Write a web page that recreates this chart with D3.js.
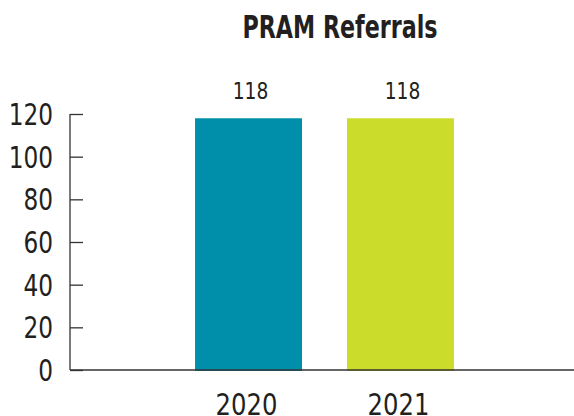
<!DOCTYPE html>
<html>
<head>
<meta charset="utf-8">
<script src="https://cdn.jsdelivr.net/npm/d3@7"></script>
<style>
  html, body { margin: 0; padding: 0; background: #fff; }
  svg { display: block; }
  text { font-family: "DejaVu Sans Condensed", "DejaVu Sans", sans-serif; font-stretch: condensed; fill: #231f20; }
</style>
</head>
<body>
<svg id="chart" width="574" height="416"></svg>
<script>
const title = "PRAM Referrals";
const categories = ["2020", "2021"];
const values = [118, 118];
const colors = ["#008fab", "#cbdc2b"];
const yTicks = [0, 20, 40, 60, 80, 100, 120];

const W = 574, H = 416;
const margin = { top: 114, right: 0, bottom: 46, left: 70 };
const svg = d3.select("#chart");

const x = d3.scaleBand()
  .domain(categories)
  .range([75, W])
  .paddingInner(0.296)
  .paddingOuter(0.79);

const y = d3.scaleLinear()
  .domain([0, 120])
  .range([H - margin.bottom, margin.top]);

function squeeze(sel, f) {
  sel.each(function () {
    const len = this.getComputedTextLength();
    d3.select(this).attr("textLength", len * f).attr("lengthAdjust", "spacingAndGlyphs");
  });
}

// bars
svg.append("g").selectAll("rect")
  .data(categories)
  .join("rect")
  .attr("x", d => x(d))
  .attr("y", (d, i) => y(values[i]))
  .attr("width", x.bandwidth())
  .attr("height", (d, i) => y(0) - y(values[i]) + 1)
  .attr("fill", (d, i) => colors[i]);

// y axis ticks
const yAxis = svg.append("g")
  .attr("transform", `translate(${margin.left},0)`)
  .call(d3.axisRight(y).tickValues(yTicks).tickSize(13).tickFormat(d => ""));
yAxis.select(".domain").remove();
yAxis.selectAll("line").attr("stroke", "#333").attr("stroke-width", 1.3);
svg.append("line")
  .attr("x1", margin.left).attr("x2", margin.left)
  .attr("y1", y(120)).attr("y2", y(0))
  .attr("stroke", "#333").attr("stroke-width", 1.3);

svg.append("g").selectAll("text")
  .data(yTicks)
  .join("text")
  .attr("x", 53)
  .attr("y", d => y(d) + 11)
  .attr("text-anchor", "end")
  .attr("font-size", 30)
  .text(d => d)
  .call(squeeze, 0.86);

// x axis baseline
svg.append("line")
  .attr("x1", margin.left).attr("x2", W)
  .attr("y1", y(0)).attr("y2", y(0))
  .attr("stroke", "#333").attr("stroke-width", 1.3);

// x labels
svg.append("g").selectAll("text")
  .data(categories)
  .join("text")
  .attr("x", d => x(d) + x.bandwidth() / 2 - 2)
  .attr("y", y(0) + 45)
  .attr("text-anchor", "middle")
  .attr("font-size", 30)
  .text(d => d)
  .call(squeeze, 0.9);

// value labels
svg.append("g").selectAll("text")
  .data(categories)
  .join("text")
  .attr("x", d => x(d) + x.bandwidth() / 2 + 2)
  .attr("y", (d, i) => y(values[i]) - 19)
  .attr("text-anchor", "middle")
  .attr("font-size", 23)
  .text((d, i) => values[i])
  .call(squeeze, 0.9);

// title
svg.append("text")
  .attr("x", 340)
  .attr("y", 38)
  .attr("text-anchor", "middle")
  .attr("font-size", 32)
  .attr("font-weight", "bold")
  .text(title)
  .attr("textLength", 195)
  .attr("lengthAdjust", "spacingAndGlyphs");
</script>
</body>
</html>
